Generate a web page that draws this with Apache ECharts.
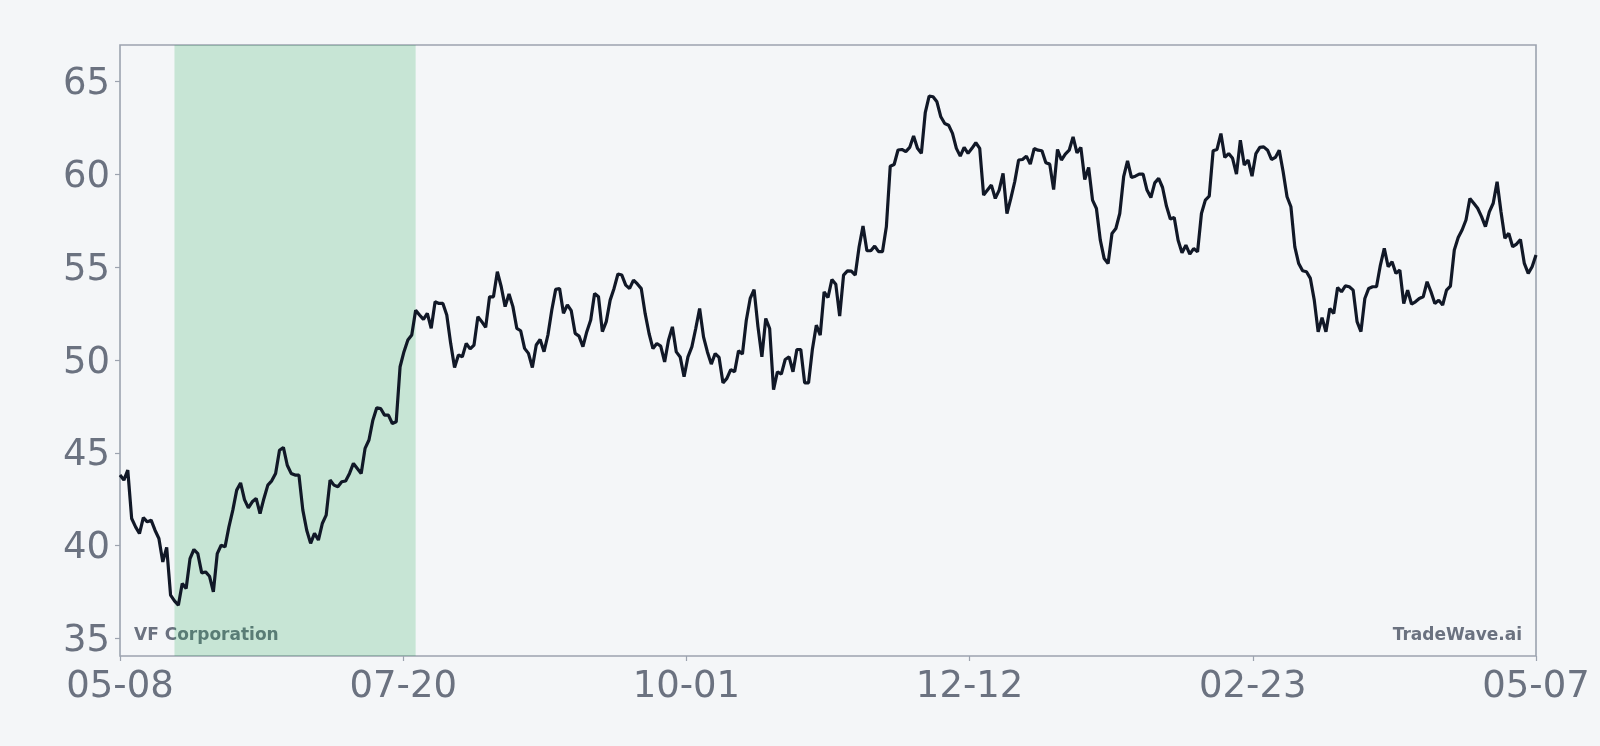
<!DOCTYPE html>
<html>
<head>
<meta charset="utf-8">
<script src="https://cdn.jsdelivr.net/npm/echarts@6/dist/echarts.min.js"></script>
<style>
  html, body { margin: 0; padding: 0; background: #f4f6f8; }
  #chart { width: 1600px; height: 746px; }
</style>
</head>
<body>
<div id="chart"></div>
<script>
// Daily closing prices, 05-08 through 05-07 (365 days)
const prices = [
  43.80, 43.53, 44.07, 41.46, 41.01, 40.65, 41.51, 41.28, 41.37, 40.83,
  40.38, 39.12, 39.90, 37.33, 37.02, 36.79, 37.96, 37.69, 39.30, 39.79,
  39.57, 38.53, 38.58, 38.35, 37.51, 39.57, 40.02, 39.93, 41.01, 41.91,
  42.99, 43.38, 42.48, 42.03, 42.36, 42.54, 41.73, 42.54, 43.26, 43.49,
  43.89, 45.14, 45.29, 44.33, 43.89, 43.80, 43.80, 41.91, 40.83, 40.12,
  40.66, 40.30, 41.19, 41.64, 43.53, 43.26, 43.17, 43.44, 43.48, 43.89,
  44.43, 44.16, 43.89, 45.24, 45.69, 46.76, 47.43, 47.39, 47.03, 47.03,
  46.58, 46.67, 49.64, 50.45, 51.08, 51.35, 52.69, 52.43, 52.19, 52.52,
  51.71, 53.14, 53.05, 53.05, 52.43, 50.90, 49.60, 50.27, 50.18, 50.90,
  50.60, 50.81, 52.34, 52.07, 51.76, 53.41, 53.41, 54.76, 53.95, 52.88,
  53.56, 52.88, 51.71, 51.58, 50.63, 50.36, 49.60, 50.81, 51.11, 50.45,
  51.35, 52.70, 53.81, 53.86, 52.52, 52.97, 52.66, 51.44, 51.29, 50.72,
  51.53, 52.16, 53.59, 53.41, 51.53, 52.07, 53.23, 53.86, 54.64, 54.58,
  54.04, 53.86, 54.31, 54.10, 53.85, 52.50, 51.43, 50.62, 50.89, 50.75,
  49.90, 51.07, 51.79, 50.44, 50.17, 49.10, 50.17, 50.71, 51.70, 52.78,
  51.25, 50.44, 49.78, 50.35, 50.14, 48.77, 49.01, 49.49, 49.37, 50.50,
  50.32, 52.15, 53.32, 53.80, 51.79, 50.17, 52.24, 51.70, 48.41, 49.37,
  49.24, 50.03, 50.17, 49.37, 50.57, 50.57, 48.77, 48.77, 50.60, 51.88,
  51.34, 53.68, 53.37, 54.34, 54.09, 52.37, 54.58, 54.81, 54.79, 54.58,
  56.11, 57.22, 55.89, 55.89, 56.14, 55.84, 55.84, 57.18, 60.45, 60.54,
  61.32, 61.35, 61.23, 61.46, 62.07, 61.41, 61.14, 63.33, 64.23, 64.19,
  63.92, 63.11, 62.75, 62.66, 62.22, 61.41, 60.99, 61.46, 61.14, 61.41,
  61.71, 61.41, 58.89, 59.16, 59.43, 58.71, 59.16, 60.06, 57.90, 58.71,
  59.61, 60.78, 60.81, 60.99, 60.56, 61.40, 61.31, 61.28, 60.63, 60.56,
  59.19, 61.35, 60.78, 61.10, 61.31, 62.03, 61.17, 61.46, 59.73, 60.38,
  58.62, 58.17, 56.46, 55.47, 55.20, 56.82, 57.09, 57.90, 59.88, 60.74,
  59.84, 59.91, 60.02, 60.02, 59.16, 58.76, 59.55, 59.79, 59.30, 58.30,
  57.60, 57.68, 56.46, 55.78, 56.19, 55.71, 56.01, 55.83, 57.90, 58.62,
  58.83, 61.28, 61.35, 62.21, 60.92, 61.13, 60.87, 60.02, 61.85, 60.51,
  60.78, 59.91, 61.13, 61.46, 61.49, 61.31, 60.81, 60.92, 61.31, 60.15,
  58.80, 58.26, 56.10, 55.20, 54.81, 54.76, 54.40, 53.23, 51.52, 52.29,
  51.52, 52.78, 52.51, 53.91, 53.68, 54.00, 53.95, 53.77, 52.07, 51.53,
  53.32, 53.86, 53.95, 53.95, 55.12, 56.02, 55.03, 55.30, 54.67, 54.85,
  53.05, 53.77, 53.02, 53.14, 53.32, 53.41, 54.22, 53.68, 53.05, 53.23,
  52.96, 53.77, 53.99, 55.93, 56.61, 57.01, 57.55, 58.71, 58.45, 58.18,
  57.73, 57.19, 57.99, 58.45, 59.61, 57.99, 56.56, 56.83, 56.11, 56.25,
  56.50, 55.21, 54.67, 55.03, 55.66
];

// x tick labels (evenly spaced across the year)
const xTickLabels = ['05-08', '07-20', '10-01', '12-12', '02-23', '05-07'];
// y tick values
const yTicks = [35, 40, 45, 50, 55, 60, 65];
// highlighted period (day offsets from 05-08): 05-22 .. 07-23
const shadeRange = [14, 76];

const titleText = 'VF Corporation';
const brandText = 'TradeWave.ai';

const lastDay = prices.length - 1;
const xTickPos = xTickLabels.map((_, i) => i * lastDay / (xTickLabels.length - 1));
const seriesData = prices.map((v, i) => [i, v]);

const grey = '#6b7280';
const chart = echarts.init(document.getElementById('chart'), null, { renderer: 'canvas' });
chart.setOption({
  backgroundColor: '#f4f6f8',
  animation: false,
  grid: {
    left: 120, right: 64, top: 45, bottom: 90,
    show: true, borderColor: '#9ca3af', borderWidth: 1.6, backgroundColor: 'transparent'
  },
  xAxis: {
    type: 'value',
    min: 0, max: lastDay,
    splitLine: { show: false },
    axisLine: { show: false },
    axisTick: { show: true, length: 5, lineStyle: { color: '#9ca3af', width: 1.2 }, customValues: xTickPos },
    axisLabel: {
      customValues: xTickPos,
      color: grey, fontSize: 37, fontFamily: 'DejaVu Sans', margin: 13,
      formatter: (v) => xTickLabels[Math.round(v / (lastDay / (xTickLabels.length - 1)))]
    }
  },
  yAxis: {
    type: 'value',
    min: 34.05, max: 66.98,
    splitLine: { show: false },
    axisLine: { show: false },
    axisTick: { show: true, length: 5, lineStyle: { color: '#9ca3af', width: 1.2 }, customValues: yTicks },
    axisLabel: {
      customValues: yTicks,
      color: grey, fontSize: 37, fontFamily: 'DejaVu Sans', margin: 10,
      verticalAlign: 'top', lineHeight: 6,
      formatter: (v) => String(Math.round(v))
    }
  },
  series: [{
    type: 'line',
    data: seriesData,
    showSymbol: false,
    symbol: 'none',
    lineStyle: { color: '#111827', width: 3.2 },
    z: 5,
    markArea: {
      silent: true,
      itemStyle: { color: 'rgba(22,163,74,0.2)' },
      data: [[{ xAxis: shadeRange[0] }, { xAxis: shadeRange[1] }]]
    }
  }],
  graphic: [
    {
      type: 'text', left: 134, top: 627, silent: true,
      style: { text: titleText, fill: grey, font: 'bold 17px "DejaVu Sans"' }
    },
    {
      type: 'text', right: 78, top: 627, silent: true,
      style: { text: brandText, fill: grey, font: 'bold 17px "DejaVu Sans"' }
    }
  ]
});
</script>
</body>
</html>
